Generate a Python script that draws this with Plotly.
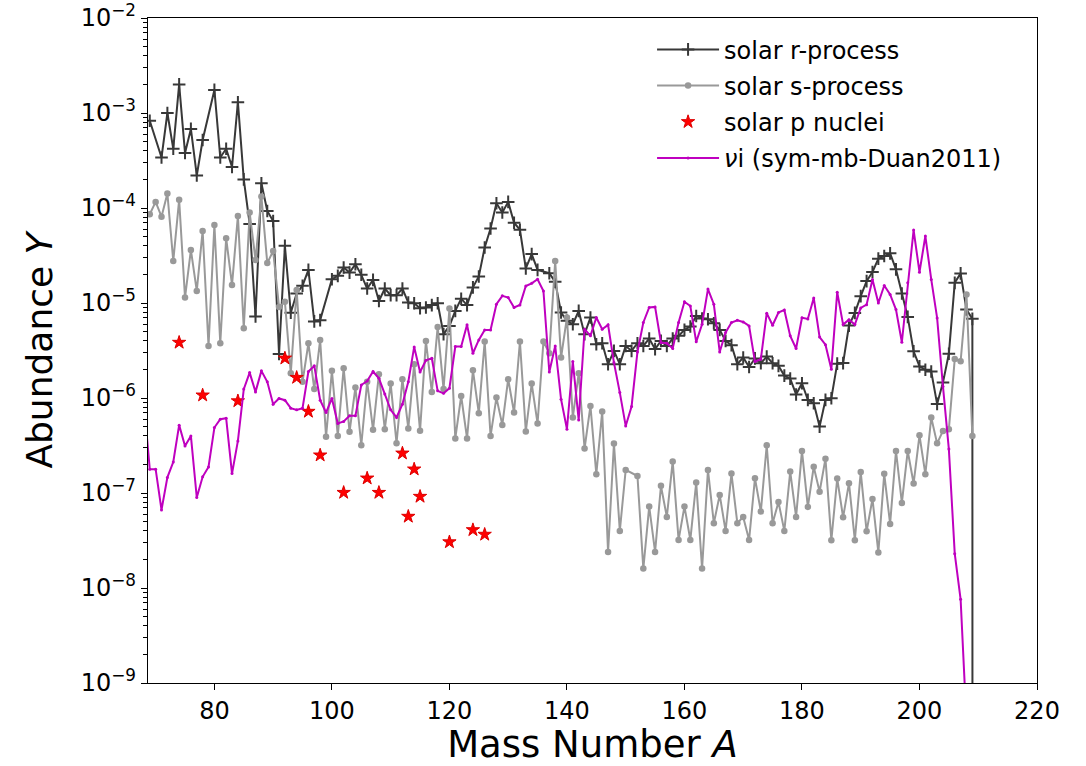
import plotly.graph_objects as go

# ---------------- data ----------------
r_A = [69, 71, 72, 73, 74, 75, 76, 77, 78, 80, 81, 82, 83, 84, 85, 86, 87, 88, 89, 90,
       91, 92, 93, 94, 95, 96, 97, 98, 100, 101, 102, 103, 104, 105, 106, 107, 108, 109,
       110, 111, 112, 113, 114, 115, 116, 117, 118, 119, 120, 121, 122, 123, 124, 125,
       126, 127, 128, 129, 130, 131, 132, 133, 134, 135, 137, 138, 139, 140, 141, 142,
       143, 144, 145, 146, 147, 148, 149, 150, 151, 152, 153, 154, 155, 156, 157, 158,
       159, 160, 161, 162, 163, 164, 165, 166, 167, 168, 169, 170, 171, 172, 173, 174,
       175, 176, 177, 178, 179, 180, 181, 182, 183, 184, 185, 186, 187, 188, 189, 190,
       191, 192, 193, 194, 195, 196, 197, 198, 199, 200, 201, 202, 203, 204, 205, 206,
       207, 208, 209, 210]
r_Y = [8.3e-4, 3.4e-4, 1.0e-3, 4.2e-4, 2.0e-3, 3.8e-4, 6.8e-4, 2.2e-4, 5.2e-4, 1.75e-3,
       3.4e-4, 4.2e-4, 2.7e-4, 1.3e-3, 2.0e-4, 6.8e-5, 7.2e-6, 1.82e-4, 9.3e-5, 7.3e-5,
       2.9e-6, 4.0e-5, 7.9e-6, 1.26e-5, 1.52e-5, 2.23e-5, 6.4e-6, 6.6e-6, 1.78e-5, 1.93e-5,
       2.36e-5, 2.09e-5, 2.56e-5, 1.98e-5, 1.42e-5, 1.75e-5, 1.05e-5, 1.42e-5, 1.21e-5,
       1.21e-5, 1.42e-5, 1.01e-5, 9.95e-6, 8.8e-6, 8.97e-6, 9.5e-6, 9.95e-6, 4.7e-6,
       5.74e-6, 8.26e-6, 1.11e-5, 9.5e-6, 1.46e-5, 1.9e-5, 3.84e-5, 6.08e-5, 1.12e-4,
       8.97e-5, 1.16e-4, 7.0e-5, 5.9e-5, 2.31e-5, 3.27e-5, 2.23e-5, 2.06e-5, 1.67e-5,
       7.94e-6, 6.49e-6, 5.98e-6, 8.26e-6, 4.7e-6, 7.03e-6, 3.68e-6, 3.77e-6, 2.27e-6,
       3.13e-6, 2.27e-6, 3.53e-6, 3.13e-6, 3.77e-6, 3.53e-6, 4.22e-6, 3.27e-6, 3.99e-6,
       3.53e-6, 4.22e-6, 4.51e-6, 5.21e-6, 5.66e-6, 7.31e-6, 6.87e-6, 6.75e-6, 6.12e-6,
       5.21e-6, 3.99e-6, 3.6e-6, 2.27e-6, 2.67e-6, 2.12e-6, 2.61e-6, 2.32e-6, 2.73e-6,
       2.32e-6, 2.18e-6, 1.72e-6, 1.6e-6, 1.09e-6, 1.43e-6, 9.55e-7, 8.8e-7, 5.0e-7,
       9.55e-7, 9.95e-7, 2.3e-6, 2.33e-6, 5.78e-6, 7.87e-6, 1.18e-5, 1.7e-5, 2.12e-5,
       2.93e-5, 3.12e-5, 3.33e-5, 2.26e-5, 1.26e-5, 7.14e-6, 3.1e-6, 2.15e-6, 1.98e-6,
       1.9e-6, 8.67e-7, 1.46e-6, 2.92e-6, 1.63e-5, 2.05e-5, 8.53e-6, 6.81e-6, 0.0]

s_A = [69, 70, 71, 72, 73, 74, 75, 76, 77, 78, 79, 80, 81, 82, 83, 84, 85, 86, 87, 88,
       89, 90, 91, 92, 93, 94, 95, 96, 97, 98, 99, 100, 101, 102, 103, 104, 105, 106, 107,
       108, 109, 110, 111, 112, 113, 114, 115, 116, 117, 118, 119, 120, 121, 122, 123, 124,
       125, 126, 127, 128, 129, 130, 131, 132, 133, 134, 135, 136, 137, 138, 139, 140, 141,
       142, 143, 144, 145, 146, 147, 148, 149, 150, 152, 153, 154, 155, 156, 157, 158, 159,
       160, 161, 162, 163, 164, 165, 166, 167, 168, 169, 170, 171, 172, 173, 174, 175, 176,
       177, 178, 179, 180, 181, 182, 183, 184, 185, 186, 187, 188, 189, 190, 191, 192, 193,
       194, 195, 196, 197, 198, 199, 200, 201, 202, 203, 204, 205, 206, 207, 208, 209]
s_Y = [8.6e-5, 1.16e-4, 8.1e-5, 1.42e-4, 2.77e-5, 1.22e-4, 1.14e-5, 3.62e-5, 1.34e-5,
       5.74e-5, 3.53e-6, 6.64e-5, 3.77e-6, 4.81e-5, 1.55e-5, 8.26e-5, 5.43e-6, 8.95e-5,
       2.84e-5, 1.32e-4, 2.63e-5, 3.53e-5, 9.1e-6, 1.03e-5, 1.82e-6, 1.37e-5, 1.48e-6,
       3.77e-6, 1.24e-6, 4.09e-6, 3.9e-7, 1.93e-6, 3.99e-7, 2.06e-6, 4.4e-7, 1.29e-6,
       3.18e-7, 1.48e-6, 4.62e-7, 1.78e-6, 4.69e-7, 1.42e-6, 3.34e-7, 1.58e-6, 4.78e-7,
       2.27e-6, 4.51e-7, 3.99e-6, 1.16e-6, 5.6e-6, 1.24e-6, 8.75e-6, 3.75e-7, 1.05e-6,
       3.75e-7, 1.96e-6, 6.92e-7, 3.93e-6, 3.99e-7, 1.01e-6, 5.21e-7, 1.58e-6, 7.03e-7,
       3.93e-6, 4.44e-7, 1.42e-6, 5.4e-7, 3.93e-6, 2.96e-6, 2.77e-5, 2.67e-6, 7.03e-6,
       6.24e-7, 1.82e-6, 2.94e-7, 8.26e-7, 1.58e-7, 7.21e-7, 2.4e-8, 3.32e-7, 3.99e-8,
       1.75e-7, 1.51e-7, 1.6e-8, 7.21e-8, 2.4e-8, 1.19e-7, 5.6e-8, 2.15e-7, 3.21e-8,
       7.21e-8, 3.21e-8, 1.29e-7, 1.6e-8, 1.75e-7, 4.81e-8, 9.55e-8, 3.99e-8, 1.6e-7,
       4.81e-8, 5.6e-8, 3.21e-8, 1.43e-7, 6.38e-8, 3.18e-7, 4.81e-8, 8.05e-8, 3.99e-8,
       1.68e-7, 5.6e-8, 2.77e-7, 7.14e-8, 1.89e-7, 1.03e-7, 2.3e-7, 3.18e-8, 1.42e-7,
       5.55e-8, 1.27e-7, 3.18e-8, 1.66e-7, 3.95e-8, 8.67e-8, 2.37e-8, 1.59e-7, 4.73e-8,
       2.77e-7, 7.87e-8, 2.77e-7, 1.26e-7, 4.05e-7, 1.58e-7, 6.22e-7, 3.33e-7, 4.5e-7,
       4.69e-7, 2.57e-6, 2.43e-6, 1.23e-5, 3.98e-7]

p_A = [74, 78, 84, 92, 94, 96, 98, 102, 106, 108, 112, 113, 114, 115, 120, 124, 126]
p_Y = [3.84e-6, 1.07e-6, 9.3e-7, 2.62e-6, 1.64e-6, 7.21e-7, 2.5e-7, 1.01e-7, 1.43e-7,
       1.01e-7, 2.62e-7, 5.66e-8, 1.78e-7, 9.18e-8, 3.05e-8, 4.09e-8, 3.66e-8]

nu_A = list(range(68, 209))
nu_Y = [9e-7, 1.78e-7, 1.78e-7, 6.64e-8, 1.46e-7, 2.12e-7, 5.18e-7, 3.13e-7, 3.99e-7,
        8.97e-8, 1.48e-7, 1.88e-7, 4.89e-7, 5.98e-7, 6.12e-7, 1.6e-7, 3.53e-7, 1.24e-6,
        1.85e-6, 1.16e-6, 1.93e-6, 1.48e-6, 8.61e-7, 9.89e-7, 9.48e-7, 7.82e-7, 7.5e-7,
        7.82e-7, 1.9e-6, 2.18e-6, 9.48e-7, 7.03e-7, 9.89e-7, 5.4e-7, 5.66e-7, 6.49e-7,
        6.49e-7, 1.37e-6, 1.51e-6, 1.9e-6, 1.61e-6, 1.1e-6, 7.5e-7, 6.24e-7, 8.61e-7,
        1.48e-6, 3.45e-6, 1.88e-6, 2.5e-6, 2.62e-6, 1.19e-6, 1.12e-6, 1.27e-6, 3.48e-6,
        3.48e-6, 5.89e-6, 2.96e-6, 4.09e-6, 5.21e-6, 5.21e-6, 9.7e-6, 1.19e-5, 1.14e-5,
        8.97e-6, 9.55e-6, 1.51e-5, 1.61e-5, 1.78e-5, 1.34e-5, 1.88e-6, 3.53e-6, 9.7e-7,
        4.7e-7, 2.42e-6, 5.87e-7, 5.3e-6, 4.51e-6, 7.03e-6, 5.3e-6, 5.89e-6, 2.36e-6,
        1.14e-6, 5.08e-7, 8.15e-7, 3.05e-6, 6.24e-6, 8.97e-6, 9.1e-6, 3.84e-6, 3.77e-6,
        3.32e-6, 6.24e-6, 1.03e-5, 9.3e-6, 3.9e-6, 5.98e-6, 1.4e-5, 9.7e-6, 3.05e-6,
        4.89e-6, 6.24e-6, 6.59e-6, 6.32e-6, 5.74e-6, 2.42e-6, 2.56e-6, 7.82e-6, 5.83e-6,
        7.94e-6, 8.45e-6, 4.51e-6, 3.32e-6, 7.0e-6, 6.8e-6, 1.13e-5, 4.38e-6, 3.64e-6,
        2.01e-6, 1.3e-5, 5.93e-6, 6.68e-6, 5.93e-6, 8.87e-6, 9.6e-6, 1.77e-5, 1.0e-5,
        1.53e-5, 1.23e-5, 8.53e-6, 3.86e-6, 1.63e-5, 5.86e-5, 2.11e-5, 5.07e-5, 1.77e-5,
        6.96e-6, 1.32e-6, 2.9e-7, 2.3e-8, 7.6e-9, 3.9e-10]

y_tick_vals = [1e-9, 1e-8, 1e-7, 1e-6, 1e-5, 1e-4, 1e-3, 1e-2]
y_tick_text = ["10<sup>\u22129</sup>", "10<sup>\u22128</sup>", "10<sup>\u22127</sup>",
               "10<sup>\u22126</sup>", "10<sup>\u22125</sup>", "10<sup>\u22124</sup>",
               "10<sup>\u22123</sup>", "10<sup>\u22122</sup>"]
x_tick_vals = [80, 100, 120, 140, 160, 180, 200, 220]

# non-positive values are clipped far below the axis (as a log plot does)
r_plot = [v if v > 0 else 1e-300 for v in r_Y]

minor_vals = [m * 10 ** e for e in range(-9, -2) for m in range(2, 10)]

FONT = "DejaVu Sans"
fig = go.Figure()
fig.add_trace(go.Scatter(
    x=r_A, y=r_plot, mode="lines+markers", name="solar r-process",
    legendgroup="r",
    line=dict(color="#383838", width=2),
    marker=dict(symbol="cross-thin-open", size=9, color="#383838",
                line=dict(color="#383838", width=2))))
fig.add_trace(go.Scatter(
    x=s_A, y=s_Y, mode="lines+markers", name="solar s-process",
    legendgroup="s",
    line=dict(color="#999999", width=2),
    marker=dict(symbol="circle", size=6.5, color="#999999")))
fig.add_trace(go.Scatter(
    x=p_A, y=p_Y, mode="markers", name="solar p nuclei",
    legendgroup="p",
    marker=dict(symbol="star", size=10, color="#ff0000",
                line=dict(color="#dd0000", width=1))))
fig.add_trace(go.Scatter(
    x=nu_A, y=nu_Y, mode="lines+markers", name="<i>\u03bd</i>i (sym-mb-Duan2011)",
    legendgroup="nu",
    line=dict(color="#bf00bf", width=2),
    marker=dict(symbol="circle", size=3, color="#bf00bf")))

fig.update_layout(
    width=1086, height=766,
    margin=dict(l=148, r=49, t=18, b=83),
    paper_bgcolor="white", plot_bgcolor="white",
    font=dict(family=FONT, size=24, color="black"),
    showlegend=True,
    legend=dict(x=0.567, y=0.986, xanchor="left", yanchor="top",
                bgcolor="rgba(0,0,0,0)", borderwidth=0,
                font=dict(family=FONT, size=24, color="black"),
                tracegroupgap=2, itemwidth=62),
    xaxis=dict(range=[68.7, 220], tickvals=x_tick_vals, automargin=False,
               ticks="outside", ticklen=6, tickwidth=1.3, tickcolor="black",
               showline=True, mirror=True, linecolor="black", linewidth=1.3,
               showgrid=False, zeroline=False,
               tickfont=dict(family=FONT, size=24, color="black"),
               title=dict(text="Mass Number <i>A</i>",
                          font=dict(family=FONT, size=37, color="black"),
                          standoff=8)),
    yaxis=dict(type="log", range=[-9, -2], tickvals=y_tick_vals, ticktext=y_tick_text,
               automargin=False,
               ticks="outside", ticklen=6, tickwidth=1.3, tickcolor="black",
               showline=True, mirror=True, linecolor="black", linewidth=1.3,
               showgrid=False, zeroline=False,
               minor=dict(tickvals=minor_vals, ticks="outside", ticklen=3.5,
                          tickwidth=1, tickcolor="black", showgrid=False),
               tickfont=dict(family=FONT, size=24, color="black"),
               title=dict(text="Abundance <i>Y</i>",
                          font=dict(family=FONT, size=36, color="black"),
                          standoff=17)),
)

fig.write_html("out.html", config={"displayModeBar": False},
               post_script="document.body.style.margin='0px';")
